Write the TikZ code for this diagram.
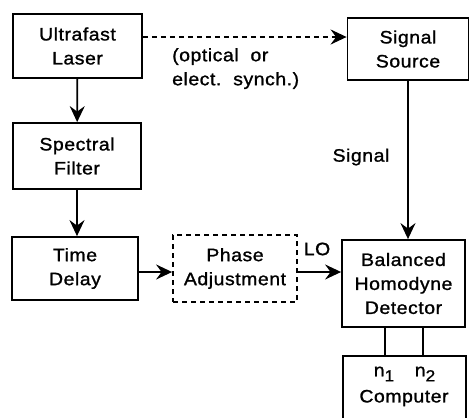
\documentclass[tikz,border=0pt]{standalone}
\usepackage{fontspec}
\setmainfont[FakeStretch=1.08,LetterSpace=3,FakeBold=1.2]{Liberation Sans}
\usetikzlibrary{arrows.meta}
\newcommand{\nsub}[1]{n\raisebox{-5pt}{\fontsize{16}{16}\selectfont #1}}
\begin{document}
\begin{tikzpicture}[x=1pt,y=-1pt,
  lbl/.style={font=\fontsize{18}{24}\selectfont, align=center, inner sep=0pt},
  blk/.style={draw, line width=1.8pt, lbl},
  dblk/.style={blk, dash pattern=on 5pt off 4pt},
  arr/.style={line width=1.8pt, -{Stealth[length=16pt,width=15pt,inset=5.5pt]}},
  ln/.style={line width=1.8pt}]
\useasboundingbox (0,0) rectangle (469,418);
\clip (0,0) rectangle (469,418);
% boxes
\node[blk, minimum width=129pt, minimum height=64pt] (laser) at (77.5,46) {Ultrafast\\Laser};
\node[blk, minimum width=128pt, minimum height=66pt] (filter) at (77,156) {Spectral\\Filter};
\node[blk, minimum width=126pt, minimum height=63pt] (delay) at (75,268.5) {Time\\Delay};
\node[dblk, minimum width=124pt, minimum height=67pt] (phase) at (235,268.5) {Phase\\Adjustment};
\node[blk, minimum width=121pt, minimum height=62pt] (source) at (408,49) {Signal\\Source};
\node[blk, minimum width=123pt, minimum height=87pt] (bhd) at (403.5,283.5) {Balanced\\Homodyne\\Detector};
\draw[ln] (343,440) |- (466,356) -- (466,440);
\node[lbl] (comp) at (404,398) {Computer};
\node[lbl] (n1) at (384,374) {\nsub{1}};
\node[lbl] (n2) at (425,374) {\nsub{2}};
\coordinate (ctop1) at (385,356);
\coordinate (ctop2) at (423,356);
% labels
\node[lbl, align=left, anchor=north west] (synch) at (172,48) {(optical\ \ or\\elect.\ \ synch.)};
\node[lbl] (siglbl) at (361,157) {Signal};
\node[lbl] (lo) at (317,249) {LO};
% connectors
\draw[arr, dash pattern=on 5pt off 4pt] (laser.east |- 0,37) -- (source.west |- 0,37);
\draw[arr] (laser) -- (filter);
\draw[arr] (filter) -- (filter |- delay.north);
\draw[arr] (delay.east |- 0,272) -- (phase.west |- 0,272);
\draw[arr] (phase.east |- 0,272) -- (bhd.west |- 0,272);
\draw[arr] (source) -- (source |- bhd.north);
\draw[ln] (bhd.south -| ctop1) -- (ctop1);
\draw[ln] (bhd.south -| ctop2) -- (ctop2);
\end{tikzpicture}
\end{document}
